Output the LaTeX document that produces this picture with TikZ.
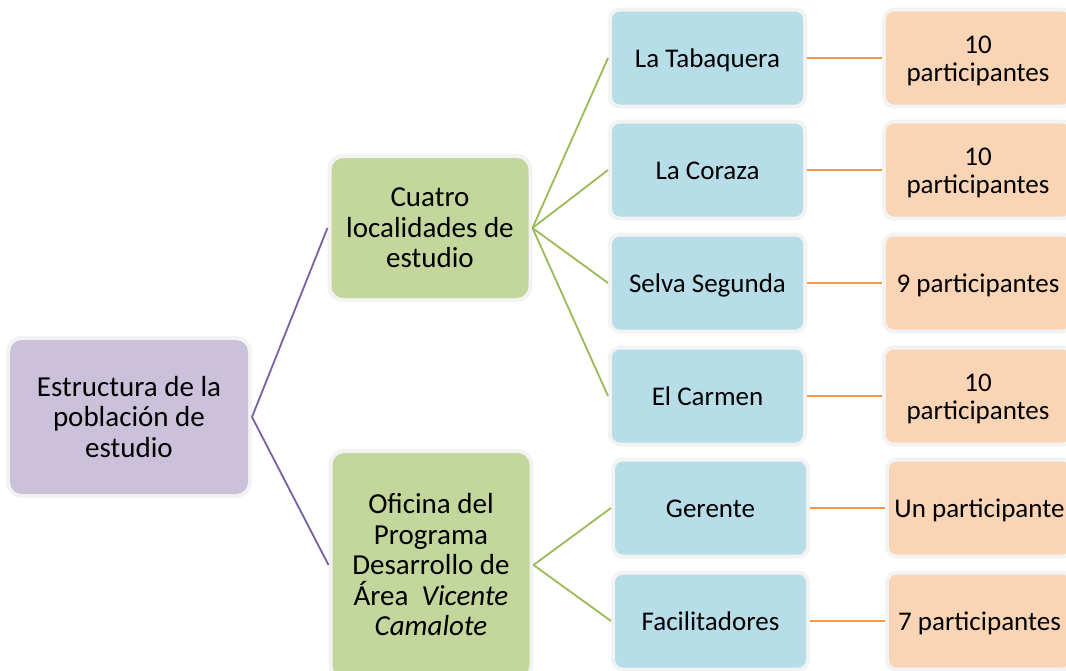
\documentclass[tikz,border=0pt]{standalone}
\usepackage{fontspec}
\setmainfont{Carlito}
\definecolor{rootfill}{HTML}{CCC1DA}
\definecolor{greenfill}{HTML}{C3D69B}
\definecolor{bluefill}{HTML}{B7DDE8}
\definecolor{orangefill}{HTML}{FAD5B5}
\definecolor{halo}{HTML}{F3F3F3}
\definecolor{purpleline}{HTML}{7B5FA0}
\definecolor{greenline}{HTML}{9BBB59}
\definecolor{orangeline}{HTML}{F79646}
\newcommand{\lowtxt}[1]{\raisebox{-4pt}[\height][\depth]{\begin{tabular}{@{}c@{}}#1\end{tabular}}}
\tikzset{
  basebox/.style={preaction={draw=halo, line width=8pt}, fill=#1, draw=none,
    align=center, inner sep=1pt, outer sep=4pt, text=black},
  bigbox/.style={basebox=#1, rounded corners=12pt, font=\fontsize{29}{30.5}\selectfont},
  smallbox/.style={basebox=#1, rounded corners=8pt, font=\fontsize{27}{28}\selectfont},
  rootbox/.style={bigbox=rootfill, minimum width=238pt, minimum height=154pt},
  greenbox/.style={bigbox=greenfill, minimum width=197pt},
  bluebox/.style={smallbox=bluefill, minimum width=191pt, minimum height=93pt},
  orangebox/.style={smallbox=orangefill, minimum height=93pt},
  pline/.style={draw=purpleline, line width=1.8pt},
  gline/.style={draw=greenline, line width=1.8pt},
  oline/.style={draw=orangeline, line width=2pt},
}
\begin{document}
\begin{tikzpicture}[x=1pt,y=-1pt]
\useasboundingbox (0,0) rectangle (1066,670);
\clip (0,0) rectangle (1066,670);
\fill[white] (0,0) rectangle (1066,670);

\node[rootbox] (root) at (129,417) {Estructura de la\\población de\\estudio};
\node[greenbox, minimum height=140pt] (loc) at (430,228) {Cuatro\\localidades de\\estudio};
\node[greenbox, minimum height=224pt] (ofi) at (431,565) {Oficina del\\Programa\\Desarrollo de\\Área\ \ \textit{Vicente}\\\textit{Camalote}};

\node[bluebox] (tab) at (707.5,58) {\lowtxt{La Tabaquera}};
\node[bluebox] (cor) at (707.5,170) {\lowtxt{La Coraza}};
\node[bluebox] (sel) at (707.5,283) {\lowtxt{Selva Segunda}};
\node[bluebox] (car) at (707.5,396) {\lowtxt{El Carmen}};
\node[bluebox] (ger) at (710.5,508) {\lowtxt{Gerente}};
\node[bluebox] (fac) at (710.5,621) {\lowtxt{Facilitadores}};

\node[orangebox, minimum width=184pt] (otab) at (978,58) {\lowtxt{10\\participantes}};
\node[orangebox, minimum width=184pt] (ocor) at (978,170) {\lowtxt{10\\participantes}};
\node[orangebox, minimum width=184pt] (osel) at (978,283) {\lowtxt{9 participantes}};
\node[orangebox, minimum width=184pt] (ocar) at (978,396) {\lowtxt{10\\participantes}};
\node[orangebox, minimum width=181pt] (oger) at (979.5,508) {\lowtxt{Un participante}};
\node[orangebox, minimum width=181pt] (ofac) at (979.5,621) {\lowtxt{7 participantes}};

\draw[pline] (root.east) -- (loc.west);
\draw[pline] (root.east) -- (ofi.west);
\foreach \b in {tab,cor,sel,car} \draw[gline] (loc.east) -- (\b.west);
\foreach \b in {ger,fac} \draw[gline] (ofi.east) -- (\b.west);
\draw[oline] (tab.east) -- (otab.west);
\draw[oline] (cor.east) -- (ocor.west);
\draw[oline] (sel.east) -- (osel.west);
\draw[oline] (car.east) -- (ocar.west);
\draw[oline] (ger.east) -- (oger.west);
\draw[oline] (fac.east) -- (ofac.west);
\end{tikzpicture}
\end{document}
